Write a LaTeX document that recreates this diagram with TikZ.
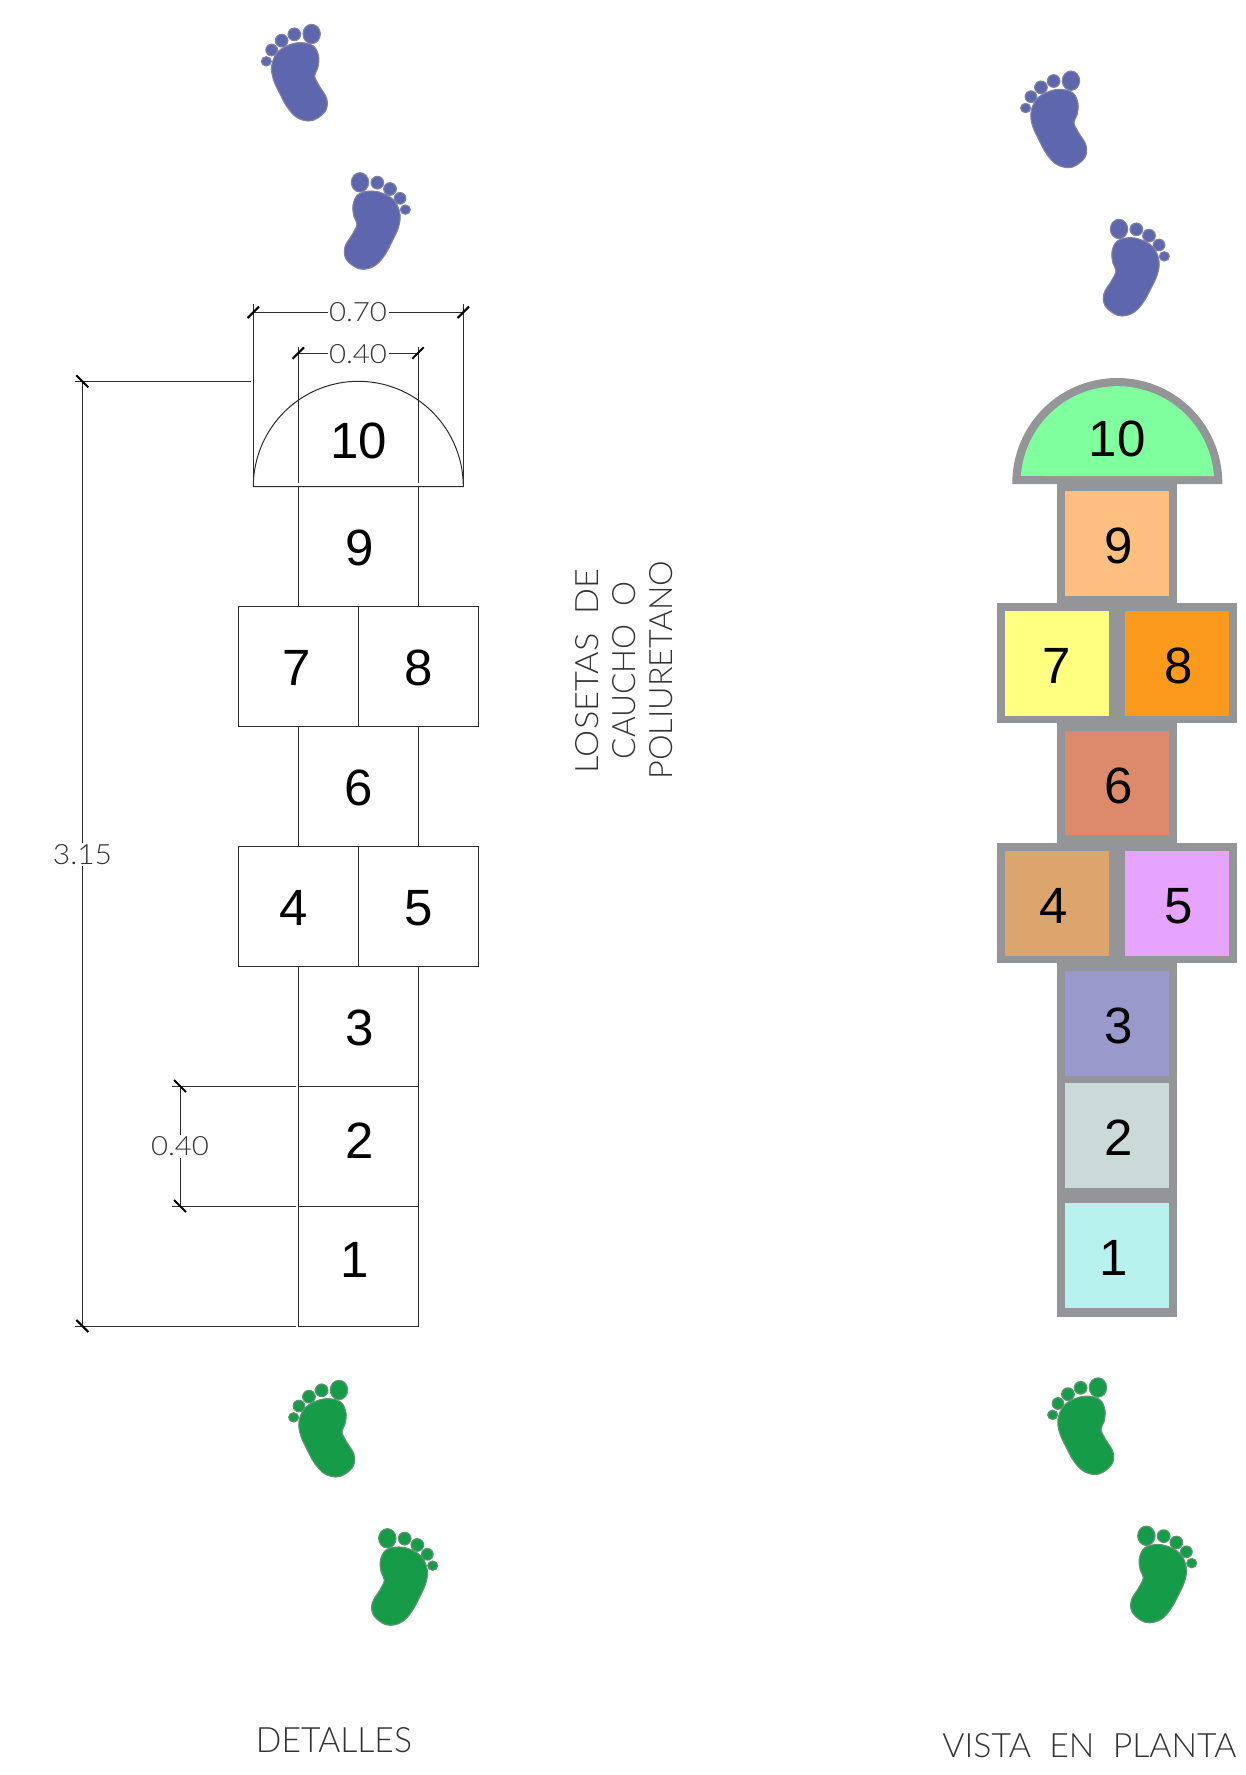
\documentclass[tikz,border=0pt]{standalone}
\usepackage{fontspec}
\setmainfont{Liberation Sans}
\newfontfamily\thinf{Lato Light}
\definecolor{grayb}{HTML}{939598}
\definecolor{lnc}{HTML}{2B2B2B}
\definecolor{txc}{HTML}{333333}
\definecolor{bluef}{HTML}{5E67AE}
\definecolor{blueo}{HTML}{80839F}
\definecolor{greenf}{HTML}{169C48}
\definecolor{greeno}{HTML}{5F9473}
\newcommand{\fitt}[3]{\resizebox{#1pt}{#2pt}{\thinf #3}}
\newcommand{\footprint}[2]{%
  \begin{scope}[#1]
    \begin{scope}[x=1pt,y=-1pt,xscale=0.3333,yscale=0.3333,draw=#2o,fill=#2f,line width=1.1pt]
      \filldraw plot[smooth cycle,tension=0.62] coordinates {(210,128) (250,138) (266,170) (263,205) (254,228) (268,258) (290,295) (288,330) (262,355) (235,363) (200,352) (172,322) (150,282) (130,238) (125,198) (140,160) (170,138)};
      \filldraw (245,102) ellipse (26 and 29);
      \filldraw (193,103) circle (19);
      \filldraw (155,122) circle (19);
      \filldraw (125,150) circle (17.5);
      \filldraw (109,184) ellipse (15 and 14);
    \end{scope}
  \end{scope}}
\tikzset{
  plainline/.style={draw=lnc,line width=1pt},
  dimtick/.style={draw=black,line width=2.1pt},
  digit/.style={inner sep=0pt,font=\fontsize{51}{51}\selectfont,text=black},
  dimtxt/.style={inner sep=1.5pt,fill=white,text=txc},
  captext/.style={inner sep=0pt,text=txc},
  framefill/.style={fill=grayb,draw=none}
}
\begin{document}
\begin{tikzpicture}[x=1pt,y=-1pt]
\useasboundingbox (0,0) rectangle (1246,1775);
% feet
\footprint{shift={(230,0)}}{blue}
\footprint{shift={(441.67,148.33)},xscale=-1}{blue}
\footprint{shift={(989.3,46.7)}}{blue}
\footprint{shift={(1200.67,195)},xscale=-1}{blue}
\footprint{shift={(257.3,1356)}}{green}
\footprint{shift={(469,1504.3)},xscale=-1}{green}
\footprint{shift={(1016.3,1353.5)}}{green}
\footprint{shift={(1228,1501.8)},xscale=-1}{green}
% left plan
\draw[plainline] plot[domain=0:180,samples=90] ({358.3+105*cos(\x)},{486.7-105.4*sin(\x)}) -- cycle;
\draw[plainline] (298.3,486.7) rectangle (418,606.7);
\draw[plainline] (238.3,606.7) rectangle (358.3,726.7);
\draw[plainline] (358.3,606.7) rectangle (478.3,726.7);
\draw[plainline] (298.3,726.7) rectangle (418,846.7);
\draw[plainline] (238.3,846.7) rectangle (358.3,966.7);
\draw[plainline] (358.3,846.7) rectangle (478.3,966.7);
\draw[plainline] (298.3,966.7) rectangle (418,1086);
\draw[plainline] (298.3,1086) rectangle (418,1206);
\draw[plainline] (298.3,1206) rectangle (418,1326);
% dimension anchors
\coordinate (a70) at (253.3,312.3); \coordinate (b70) at (463.3,312.3);
\coordinate (a40) at (298.3,353);   \coordinate (b40) at (418,353);
\coordinate (t315) at (82.3,381.3); \coordinate (u315) at (82.3,1326);
\coordinate (t40) at (180,1086);    \coordinate (u40) at (180,1206);
% extension lines
\draw[plainline] (253.3,304) -- (253.3,486.7);
\draw[plainline] (463.3,304) -- (463.3,486.7);
\draw[plainline] (298.3,346.7) -- (298.3,483);
\draw[plainline] (418,346.7) -- (418,483);
\draw[plainline] (75,381.3) -- (250.7,381.3);
\draw[plainline] (75,1326) -- (295.7,1326);
\draw[plainline] (172,1086) -- (295.7,1086);
\draw[plainline] (172,1206) -- (295.7,1206);
% dimension lines
\draw[plainline] (a70) -- (b70);
\draw[plainline] (a40) -- (b40);
\draw[plainline] (t315) -- (u315);
\draw[plainline] (t40) -- (u40);
\foreach \p in {a70,b70,a40,b40}{\draw[dimtick] ([shift={(-5.7,5.7)}]\p) -- ([shift={(5.7,-5.7)}]\p);}
\foreach \p in {t315,u315,t40,u40}{\draw[dimtick] ([shift={(-6,-6)}]\p) -- ([shift={(6,6)}]\p);}
\node[dimtxt] (d70) at (358,312.5) {\fitt{58}{19}{0.70}};
\node[dimtxt] (d40) at (358,354) {\fitt{58}{19}{0.40}};
\node[dimtxt] (d40b) at (180,1146.5) {\fitt{58}{19}{0.40}};
\node[dimtxt] (d315) at (82.5,854.5) {\fitt{59}{20}{3.15}};
% left digits
\node[digit] (l10) at (358.6,441) {10};
\node[digit] (l9) at (359.4,548.3) {9};
\node[digit] (l7) at (296.8,667.7) {7};
\node[digit] (l8) at (419.1,668) {8};
\node[digit] (l6) at (359,788) {6};
\node[digit] (l4) at (293.5,908) {4};
\node[digit] (l5) at (419,908) {5};
\node[digit] (l3) at (359.4,1028) {3};
\node[digit] (l2) at (359.7,1140.5) {2};
\node[digit] (l1) at (354.5,1260.3) {1};
% captions
\node[captext,rotate=90] (c1) at (587.5,671) {\fitt{204}{23}{LOSETAS\ \ DE}};
\node[captext,rotate=90] (c2) at (624.5,670.5) {\fitt{177}{23}{CAUCHO\ \ O}};
\node[captext,rotate=90] (c3) at (661.5,670) {\fitt{219}{23}{POLIURETANO}};
\node[captext] (c4) at (334,1740) {\fitt{156}{25}{DETALLES}};
\node[captext] (c5) at (1089.5,1746) {\fitt{294}{24}{VISTA\ \ EN\ \ PLANTA}};
% right plan frames
\fill[framefill] plot[domain=0:180,samples=90] ({1117.3+105*cos(\x)},{483-105*sin(\x)}) -- (1012.3,484) -- (1222.3,484) -- cycle;
\fill[framefill] (1056.7,483) rectangle (1177.3,603);
\fill[framefill] (996.7,603) rectangle (1237.3,723.3);
\fill[framefill] (1056.7,723) rectangle (1177.3,843.3);
\fill[framefill] (996.7,843.3) rectangle (1237.3,963.3);
\fill[framefill] (1056.7,963) rectangle (1177.3,1316.7);
% right plan fills
\fill[fill={rgb,255:red,128;green,255;blue,158}] plot[domain=4.15:175.85,samples=90] ({1117.4+96.8*cos(\x)},{483-96.8*sin(\x)}) -- cycle;
\fill[fill={rgb,255:red,255;green,191;blue,128}] (1065,491) rectangle (1169.3,596);
\fill[fill={rgb,255:red,255;green,255;blue,128}] (1005,611) rectangle (1109.3,715.7);
\fill[fill={rgb,255:red,250;green,154;blue,28}] (1125,611) rectangle (1229.3,715.7);
\fill[fill={rgb,255:red,220;green,138;blue,107}] (1065,731.3) rectangle (1169.3,835);
\fill[fill={rgb,255:red,219;green,165;blue,109}] (1005,851) rectangle (1109.3,955.7);
\fill[fill={rgb,255:red,230;green,163;blue,255}] (1125,851) rectangle (1229.3,955.7);
\fill[fill={rgb,255:red,153;green,153;blue,204}] (1065,970.7) rectangle (1169.3,1075.7);
\fill[fill={rgb,255:red,203;green,217;blue,217}] (1065,1083.3) rectangle (1169.3,1188.3);
\fill[fill={rgb,255:red,184;green,242;blue,238}] (1065,1203.3) rectangle (1169.3,1308.3);
% right digits
\node[digit] (r10) at (1117.3,439.3) {10};
\node[digit] (r9) at (1119,546) {9};
\node[digit] (r7) at (1056.8,666) {7};
\node[digit] (r8) at (1178.5,666) {8};
\node[digit] (r6) at (1119,786) {6};
\node[digit] (r4) at (1053.5,906) {4};
\node[digit] (r5) at (1179,906) {5};
\node[digit] (r3) at (1119,1026) {3};
\node[digit] (r2) at (1119,1138) {2};
\node[digit] (r1) at (1113.8,1258.3) {1};
\end{tikzpicture}
\end{document}
